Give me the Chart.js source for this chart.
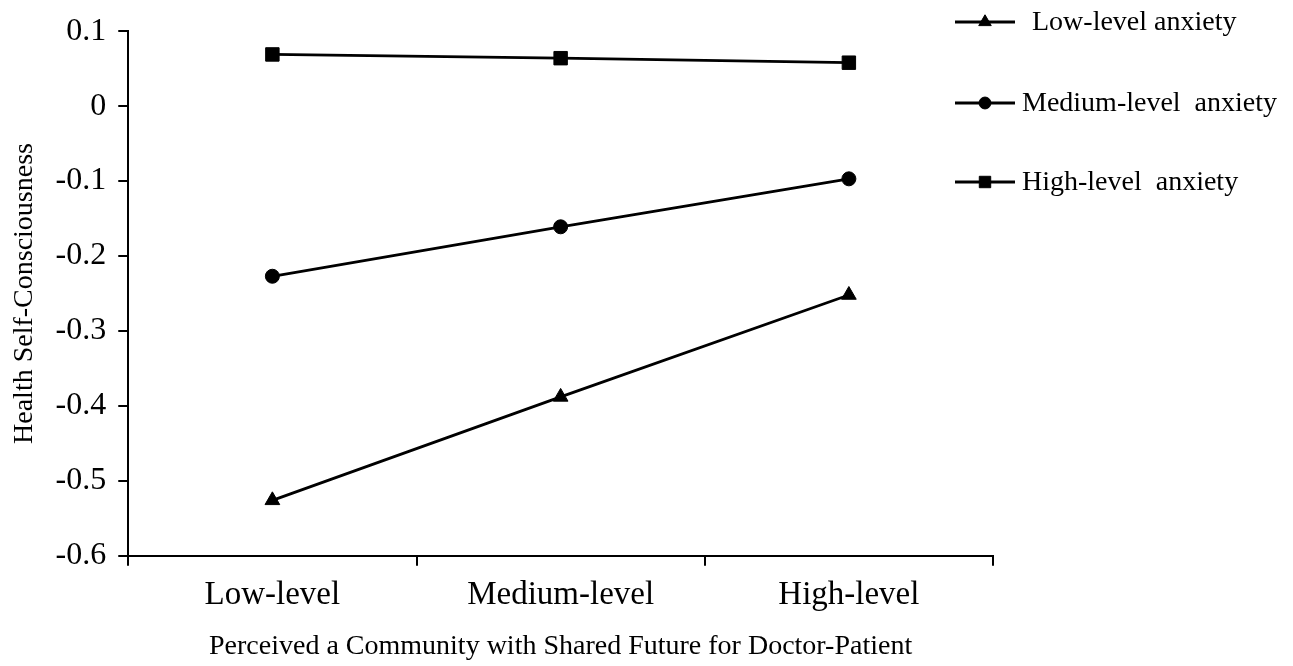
<!DOCTYPE html>
<html>
<head>
<meta charset="utf-8">
<script src="https://cdn.jsdelivr.net/npm/chart.js@4.4.1/dist/chart.umd.min.js"></script>
<style>
  html, body { margin: 0; padding: 0; background: #ffffff; }
  #wrap { width: 1293px; height: 666px; position: relative; }
</style>
</head>
<body>
<div id="wrap"><canvas id="c" width="1293" height="666"></canvas></div>
<script>
const categories = ["Low-level", "Medium-level", "High-level"];
const seriesLabels = ["Low-level anxiety", "Medium-level  anxiety", "High-level  anxiety"];
const lowAnxiety = [-0.526, -0.388, -0.252];
const mediumAnxiety = [-0.227, -0.161, -0.097];
const highAnxiety = [0.069, 0.064, 0.058];
const yTicks = [0.1, 0, -0.1, -0.2, -0.3, -0.4, -0.5, -0.6];
const xTitle = "Perceived a Community with Shared Future for Doctor-Patient";
const yTitle = "Health Self-Consciousness";

const FONT = "'Liberation Serif', 'Times New Roman', serif";

function ds(label, data, style, radius) {
  return {
    label: label,
    data: data,
    borderColor: "#000",
    backgroundColor: "#000",
    borderWidth: 2.8,
    pointStyle: style,
    pointRadius: radius,
    pointHoverRadius: radius,
    pointBorderWidth: 1,
    pointBackgroundColor: "#000",
    pointBorderColor: "#000",
    tension: 0,
    fill: false
  };
}

const customLegend = {
  id: "customLegend",
  afterDraw(chart) {
    const ctx = chart.ctx;
    const rowsY = [22, 103, 182];
    const lineX0 = 955, lineX1 = 1015, mx = 985;
    const textX = [1032, 1022, 1022];
    ctx.save();
    chart.data.datasets.forEach((d, i) => {
      const y = rowsY[i];
      ctx.strokeStyle = "#000";
      ctx.lineWidth = 2.8;
      ctx.beginPath();
      ctx.moveTo(lineX0, y);
      ctx.lineTo(lineX1, y);
      ctx.stroke();
      ctx.fillStyle = "#000";
      ctx.lineWidth = 1;
      Chart.helpers.drawPoint(ctx, { pointStyle: d.pointStyle, radius: d.pointRadius * 0.85, borderWidth: 1 }, mx, y);
      ctx.fillStyle = "#000";
      ctx.font = "28px " + FONT;
      ctx.textBaseline = "middle";
      ctx.textAlign = "left";
      ctx.fillText(d.label, textX[i], y + 1);
    });
    ctx.restore();
  }
};

new Chart(document.getElementById("c"), {
  type: "line",
  data: {
    labels: categories,
    datasets: [
      ds(seriesLabels[0], lowAnxiety, "triangle", 8.5),
      ds(seriesLabels[1], mediumAnxiety, "circle", 7),
      ds(seriesLabels[2], highAnxiety, "rect", 9.5)
    ]
  },
  options: {
    responsive: false,
    animation: false,
    layout: { padding: { top: 22, right: 300, bottom: 3, left: 8 } },
    plugins: {
      legend: { display: false },
      tooltip: { enabled: false }
    },
    scales: {
      x: {
        type: "category",
        offset: true,
        grid: { offset: true, drawOnChartArea: false, drawTicks: true, tickLength: 10, color: "#000", lineWidth: 2 },
        border: { display: true, color: "#000", width: 2 },
        ticks: { color: "#000", font: { family: FONT, size: 33 }, padding: 10, maxRotation: 0 },
        title: { display: true, text: xTitle, color: "#000", font: { family: FONT, size: 28 }, padding: { top: 4, bottom: 0 } }
      },
      y: {
        type: "linear",
        min: -0.6,
        max: 0.1,
        afterBuildTicks(axis) { axis.ticks = yTicks.map(v => ({ value: v })); },
        grid: { drawOnChartArea: false, drawTicks: true, tickLength: 10, color: "#000", lineWidth: 2 },
        border: { display: true, color: "#000", width: 2 },
        ticks: {
          color: "#000",
          font: { family: FONT, size: 32 },
          padding: 12,
          callback: v => String(Number(v.toFixed(1)))
        },
        title: { display: true, text: yTitle, color: "#000", font: { family: FONT, size: 28 }, padding: { top: 0, bottom: 2 } }
      }
    }
  },
  plugins: [customLegend]
});
</script>
</body>
</html>
